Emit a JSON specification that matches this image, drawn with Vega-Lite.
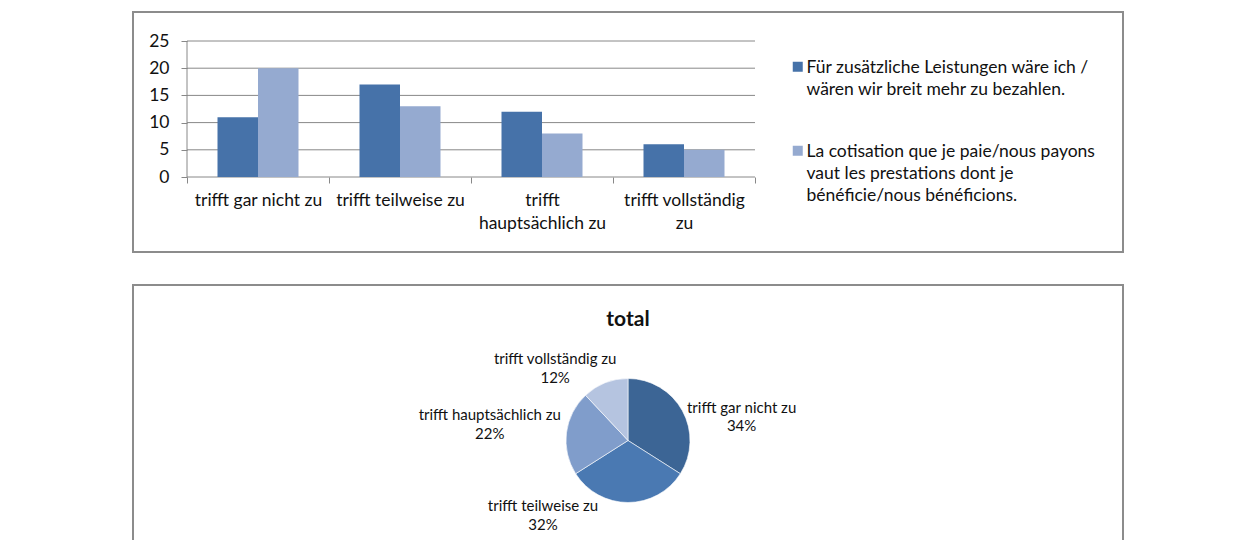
{
  "$schema": "https://vega.github.io/schema/vega-lite/v6.json",
  "padding": {"left": 132, "top": 11, "right": 0, "bottom": 0},
  "background": "white",
  "spacing": 31,
  "resolve": {"scale": {"color": "independent", "theta": "independent"}, "legend": {"color": "independent"}},
  "config": {
    "font": "Lato",
    "view": {"stroke": "#8c8c8c", "strokeWidth": 2},
    "axis": {"labelFont": "Lato", "labelColor": "#111", "labelFontSize": 17.5, "tickColor": "#888", "tickWidth": 1, "domain": false, "grid": false}
  },
  "datasets": {
    "bars": [
      {"cat": "trifft gar nicht zu", "series": "Für zusätzliche Leistungen wäre ich / wären wir breit mehr zu bezahlen.", "v": 11},
      {"cat": "trifft gar nicht zu", "series": "La cotisation que je paie/nous payons vaut les prestations dont je bénéficie/nous bénéficions.", "v": 20},
      {"cat": "trifft teilweise zu", "series": "Für zusätzliche Leistungen wäre ich / wären wir breit mehr zu bezahlen.", "v": 17},
      {"cat": "trifft teilweise zu", "series": "La cotisation que je paie/nous payons vaut les prestations dont je bénéficie/nous bénéficions.", "v": 13},
      {"cat": "trifft hauptsächlich zu", "series": "Für zusätzliche Leistungen wäre ich / wären wir breit mehr zu bezahlen.", "v": 12},
      {"cat": "trifft hauptsächlich zu", "series": "La cotisation que je paie/nous payons vaut les prestations dont je bénéficie/nous bénéficions.", "v": 8},
      {"cat": "trifft vollständig zu", "series": "Für zusätzliche Leistungen wäre ich / wären wir breit mehr zu bezahlen.", "v": 6},
      {"cat": "trifft vollständig zu", "series": "La cotisation que je paie/nous payons vaut les prestations dont je bénéficie/nous bénéficions.", "v": 5}
    ],
    "grid": [{"g": 0}, {"g": 5}, {"g": 10}, {"g": 15}, {"g": 20}, {"g": 25}],
    "pie": [
      {"cat": "trifft gar nicht zu", "pct": 0.34},
      {"cat": "trifft teilweise zu", "pct": 0.32},
      {"cat": "trifft hauptsächlich zu", "pct": 0.22},
      {"cat": "trifft vollständig zu", "pct": 0.12}
    ]
  },
  "vconcat": [
    {
      "width": 990,
      "height": 240,
      "layer": [
        {
          "data": {"name": "grid"},
          "mark": {"type": "rule", "color": "#888888", "strokeWidth": 1},
          "encoding": {
            "y": {"field": "g", "type": "quantitative"},
            "x": {"datum": "trifft gar nicht zu", "bandPosition": 0},
            "x2": {"datum": "trifft vollständig zu", "bandPosition": 1}
          }
        },
        {
          "data": {"values": [{}]},
          "mark": {"type": "rule", "color": "#888888", "strokeWidth": 1},
          "encoding": {
            "x": {"datum": "trifft gar nicht zu", "bandPosition": 0},
            "y": {"datum": 0},
            "y2": {"datum": 25}
          }
        },
        {
          "data": {"name": "bars"},
          "mark": {"type": "bar"},
          "encoding": {
            "x": {
              "field": "cat", "type": "nominal",
              "sort": ["trifft gar nicht zu", "trifft teilweise zu", "trifft hauptsächlich zu", "trifft vollständig zu"],
              "scale": {"domain": ["trifft gar nicht zu", "trifft teilweise zu", "trifft hauptsächlich zu", "trifft vollständig zu"], "paddingInner": 0, "paddingOuter": 0, "range": [54, 622]},
              "axis": {"orient": "bottom", "offset": -75, "ticks": true, "tickBand": "extent", "tickSize": 6, "labelPadding": 8, "labelAngle": 0, "labelAlign": "center", "labelBaseline": "top", "labelLineHeight": 23, "labelOverlap": false, "labelLimit": 300, "title": null,
                "labelExpr": "datum.label === 'trifft hauptsächlich zu' ? ['trifft', 'hauptsächlich zu'] : datum.label === 'trifft vollständig zu' ? ['trifft vollständig', 'zu'] : datum.label"}
            },
            "xOffset": {
              "field": "series", "type": "nominal",
              "scale": {"paddingInner": 0, "paddingOuter": 0.753}
            },
            "y": {
              "field": "v", "type": "quantitative",
              "scale": {"domain": [0, 25], "nice": false, "zero": false, "range": [165, 29]},
              "axis": {"orient": "left", "offset": -54, "values": [0, 5, 10, 15, 20, 25], "tickSize": 6, "labelPadding": 12, "title": null}
            },
            "y2": {"datum": 0},
            "color": {
              "field": "series", "type": "nominal",
              "scale": {
                "domain": ["Für zusätzliche Leistungen wäre ich / wären wir breit mehr zu bezahlen.", "La cotisation que je paie/nous payons vaut les prestations dont je bénéficie/nous bénéficions."],
                "range": ["#4672A9", "#95AAD0"]
              },
              "legend": {
                "orient": "none", "legendX": 656, "legendY": 46, "title": null,
                "symbolType": "square", "symbolSize": 100, "symbolStrokeWidth": 0,
                "labelFontSize": 17.5, "labelColor": "#111", "labelLimit": 400, "labelBaseline": "top", "labelOffset": 0, "rowPadding": 43,
                "encode": {"labels": {"update": {"lineHeight": {"value": 22}, "dy": {"value": -8}}}},
                "labelExpr": "datum.label[0] === 'F' ? ['Für zusätzliche Leistungen wäre ich /', 'wären wir breit mehr zu bezahlen.'] : ['La cotisation que je paie/nous payons', 'vaut les prestations dont je', 'bénéficie/nous bénéficions.']"
              }
            }
          }
        }
      ]
    },
    {
      "width": 990,
      "height": 311,
      "view": {"stroke": "#8c8c8c", "strokeWidth": 2, "fill": "white"},
      "data": {"name": "pie"},
      "title": {"text": "total", "fontSize": 21, "fontWeight": "bold", "font": "Lato", "color": "#111", "anchor": "middle", "frame": "group", "offset": -56, "baseline": "middle"},
      "encoding": {
        "theta": {"field": "pct", "type": "quantitative", "stack": true},
        "order": {"field": "pct", "type": "quantitative", "sort": "descending"},
        "detail": {"field": "cat", "type": "nominal"}
      },
      "layer": [
        {
          "mark": {"type": "arc", "outerRadius": 62, "stroke": "#ffffff", "strokeWidth": 0.6},
          "encoding": {
            "color": {
              "field": "cat", "type": "nominal",
              "scale": {"domain": ["trifft gar nicht zu", "trifft teilweise zu", "trifft hauptsächlich zu", "trifft vollständig zu"], "range": ["#3C6595", "#4A79B2", "#809DCB", "#B5C4E0"]},
              "legend": null
            }
          }
        },
        {
          "mark": {"type": "text", "radius": 100, "dx": 26, "dy": 16, "fontSize": 15, "color": "#111"},
          "encoding": {"text": {"condition": {"test": "datum.cat === 'trifft gar nicht zu'", "field": "cat"}, "value": ""}}
        },
        {
          "mark": {"type": "text", "radius": 100, "dx": 26, "dy": 34, "fontSize": 15, "color": "#111"},
          "encoding": {"text": {"condition": {"test": "datum.cat === 'trifft gar nicht zu'", "field": "pct", "type": "quantitative", "format": ".0%"}, "value": ""}}
        },
        {
          "mark": {"type": "text", "radius": 100, "dx": -85, "dy": -35, "fontSize": 15, "color": "#111"},
          "encoding": {"text": {"condition": {"test": "datum.cat === 'trifft teilweise zu'", "field": "cat"}, "value": ""}}
        },
        {
          "mark": {"type": "text", "radius": 100, "dx": -85, "dy": -16, "fontSize": 15, "color": "#111"},
          "encoding": {"text": {"condition": {"test": "datum.cat === 'trifft teilweise zu'", "field": "pct", "type": "quantitative", "format": ".0%"}, "value": ""}}
        },
        {
          "mark": {"type": "text", "radius": 100, "dx": -39, "dy": -12.5, "fontSize": 15, "color": "#111"},
          "encoding": {"text": {"condition": {"test": "datum.cat === 'trifft hauptsächlich zu'", "field": "cat"}, "value": ""}}
        },
        {
          "mark": {"type": "text", "radius": 100, "dx": -39, "dy": 6.5, "fontSize": 15, "color": "#111"},
          "encoding": {"text": {"condition": {"test": "datum.cat === 'trifft hauptsächlich zu'", "field": "pct", "type": "quantitative", "format": ".0%"}, "value": ""}}
        },
        {
          "mark": {"type": "text", "radius": 100, "dx": -36, "dy": 11, "fontSize": 15, "color": "#111"},
          "encoding": {"text": {"condition": {"test": "datum.cat === 'trifft vollständig zu'", "field": "cat"}, "value": ""}}
        },
        {
          "mark": {"type": "text", "radius": 100, "dx": -36, "dy": 30, "fontSize": 15, "color": "#111"},
          "encoding": {"text": {"condition": {"test": "datum.cat === 'trifft vollständig zu'", "field": "pct", "type": "quantitative", "format": ".0%"}, "value": ""}}
        }
      ]
    }
  ]
}
